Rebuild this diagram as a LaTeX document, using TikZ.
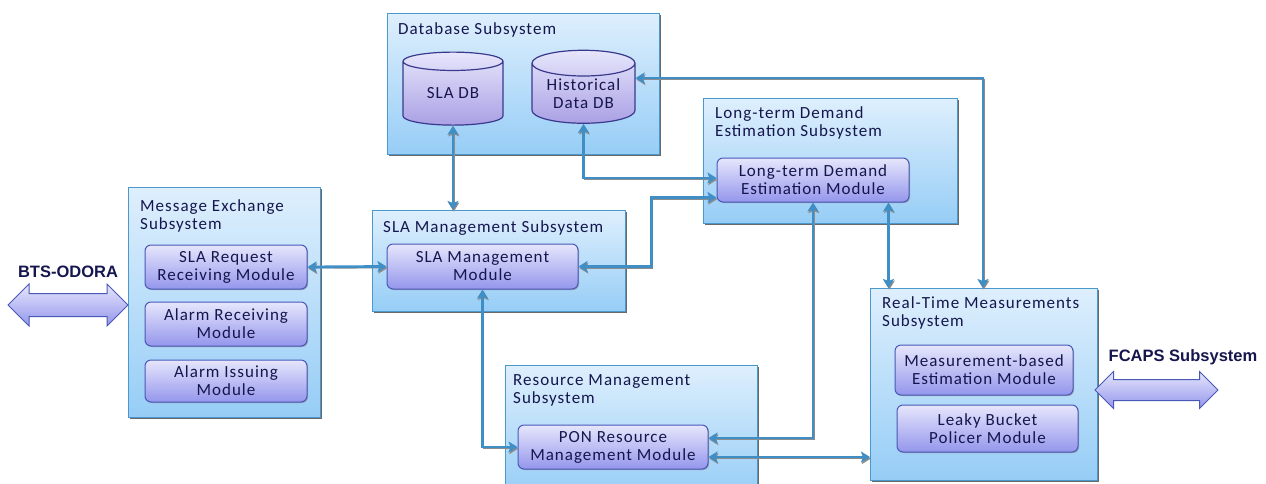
\documentclass[tikz,border=0pt]{standalone}
\usepackage{fontspec}
\setmainfont{Carlito}[LetterSpace=6]
\newfontfamily\labelfont{Liberation Sans}
\usetikzlibrary{positioning,shapes.geometric,shapes.arrows,arrows.meta,shadows}

\definecolor{subtop}{RGB}{222,239,253}
\definecolor{subbot}{RGB}{150,205,246}
\definecolor{subline}{RGB}{74,152,204}
\definecolor{modtop}{RGB}{230,230,252}
\definecolor{modbot}{RGB}{148,150,236}
\definecolor{modline}{RGB}{72,88,184}
\definecolor{dbbot}{RGB}{170,160,228}
\definecolor{dbline}{RGB}{58,58,140}
\definecolor{linkblue}{RGB}{63,143,198}
\definecolor{inkblue}{RGB}{22,22,78}

\begin{document}
\begin{tikzpicture}[x=1pt,y=1pt,yscale=-1,xscale=1,
  font=\fontsize{17}{18}\selectfont,
  subsys/.style={draw=subline, line width=1.2pt, top color=subtop, bottom color=subbot,
    anchor=north west, inner sep=0pt,
    drop shadow={shadow xshift=1.5pt, shadow yshift=-1.5pt, fill=black!65, opacity=0.9}},
  module/.style={draw=modline, line width=1pt, rounded corners=6pt, top color=modtop,
    bottom color=modbot, text=inkblue, align=center, inner sep=0pt,
    drop shadow={shadow xshift=1pt, shadow yshift=-1pt, fill=black!40, opacity=0.8}},
  dbase/.style={cylinder, shape border rotate=90, aspect=0.35, draw=dbline, line width=1.2pt,
    top color=modtop, bottom color=dbbot, text=inkblue, align=center, inner sep=0pt},
  title/.style={text=inkblue, align=left, inner sep=0pt},
  extarrow/.style={double arrow, draw=modline, line width=1pt, top color=modtop,
    bottom color=modbot, inner xsep=0pt, double arrow head indent=0pt},
  extlabel/.style={font=\labelfont\bfseries\fontsize{16.5}{18}\selectfont, text=inkblue, inner sep=0pt},
  link/.style={draw=linkblue, line width=2.8pt,
    {Stealth[length=9pt,width=11pt,inset=2pt]}-{Stealth[length=9pt,width=11pt,inset=2pt]},
    preaction={draw=black!45, transform canvas={xshift=0.8pt,yshift=-1.6pt}}}]
  \clip (0,0) rectangle (1266,483);

  %Shape: Rectangle [Database Subsystem]
  \node[subsys, minimum width=272pt, minimum height=141pt] (dbsys) at (387,13) {};
  %Shape: Rectangle [Message Exchange Subsystem]
  \node[subsys, minimum width=192pt, minimum height=230pt] (msgsys) at (128,187) {};
  %Shape: Rectangle [SLA Management Subsystem]
  \node[subsys, minimum width=253pt, minimum height=101pt] (slasys) at (372,210) {};
  %Shape: Rectangle [Long-term Demand Estimation Subsystem]
  \node[subsys, minimum width=254pt, minimum height=125pt] (ltdsys) at (703,98) {};
  %Shape: Rectangle [Real-Time Measurements Subsystem]
  \node[subsys, minimum width=227pt, minimum height=192pt] (rtmsys) at (870,288) {};
  %Shape: Rectangle [Resource Management Subsystem]
  \node[subsys, minimum width=252pt, minimum height=130pt] (rmsys) at (505,365) {};

  % Text Node
  \node[title, anchor=base west] at (398,34) {Database Subsystem};
  % Text Node
  \node[title, anchor=north west] at (140,199) {Message Exchange\\Subsystem};
  % Text Node
  \node[title, anchor=base west] at (383,232) {SLA Management Subsystem};
  % Text Node
  \node[title, anchor=north west] at (715,106) {Long-term Demand\\Estimation Subsystem};
  % Text Node
  \node[title, anchor=north west] at (882,296) {Real-Time Measurements\\Subsystem};
  % Text Node
  \node[title, anchor=north west] at (513,374) {Resource Management\\Subsystem};

  %Shape: Can
  \node[dbase, minimum width=100pt, minimum height=73pt] (sladb) at (453,93.5) {SLA DB};
  %Shape: Can
  \node[dbase, minimum width=103pt, minimum height=73pt] (histdb) at (583.5,93.5) {Historical\\Data DB};

  %Shape: Rounded Rect
  \node[module, minimum width=162pt, minimum height=44pt] (slareq) at (226,267) {SLA Request\\Receiving Module};
  \node[module, minimum width=162pt, minimum height=44pt] (alrecv) at (226,324) {Alarm Receiving\\Module};
  \node[module, minimum width=162pt, minimum height=42pt] (aliss) at (226,381) {Alarm Issuing\\Module};
  \node[module, minimum width=191pt, minimum height=45pt] (slamod) at (482.5,266.5) {SLA Management\\Module};
  \node[module, minimum width=192pt, minimum height=44pt] (ltdmod) at (813,180) {Long-term Demand\\Estimation Module};
  \node[module, minimum width=178pt, minimum height=50pt] (mbemod) at (984,370) {Measurement-based\\Estimation Module};
  \node[module, minimum width=181pt, minimum height=47pt] (lbpmod) at (987.5,428.5) {Leaky Bucket\\Policer Module};
  \node[module, minimum width=190pt, minimum height=44pt] (ponmod) at (613,447) {PON Resource\\Management Module};

  %Shape: Double Arrow
  \node[extarrow, minimum height=120pt, inner ysep=11pt, double arrow head extend=9.5pt] (btsarrow) at (68,305) {};
  \node[extlabel, above=15pt of btsarrow] (btslabel) {BTS-ODORA};
  \node[extarrow, minimum height=123pt, inner ysep=10pt, double arrow head extend=8pt] (fcapsarrow) at (1156.5,390) {};
  \node[extlabel] (fcapslabel) at (1183,357) {FCAPS Subsystem};

  %Straight Lines
  \draw[link] (slareq.east) -- (slamod.west);
  \draw[link] (sladb.south) -- (sladb.south |- slasys.north);
  \draw[link] (histdb.south) |- ([yshift=-2pt]ltdmod.west);
  \draw[link] (slamod.east) -- ++(73,0) |- ([yshift=-5pt]ltdmod.south west);
  \draw[link] (histdb.east |- 0,78) -| ([xshift=113pt]rtmsys.north west);
  \draw[link] ([xshift=-21pt]ltdmod.south east) -- ([xshift=-21pt]ltdmod.south east |- rtmsys.north);
  \draw[link] (ltdmod.south) |- ([yshift=-9pt]ponmod.east);
  \draw[link] ([yshift=10pt]ponmod.east) -- ([yshift=10pt]ponmod.east -| rtmsys.west);
  \draw[link] (slamod.south) |- (ponmod.west);
\end{tikzpicture}
\end{document}
